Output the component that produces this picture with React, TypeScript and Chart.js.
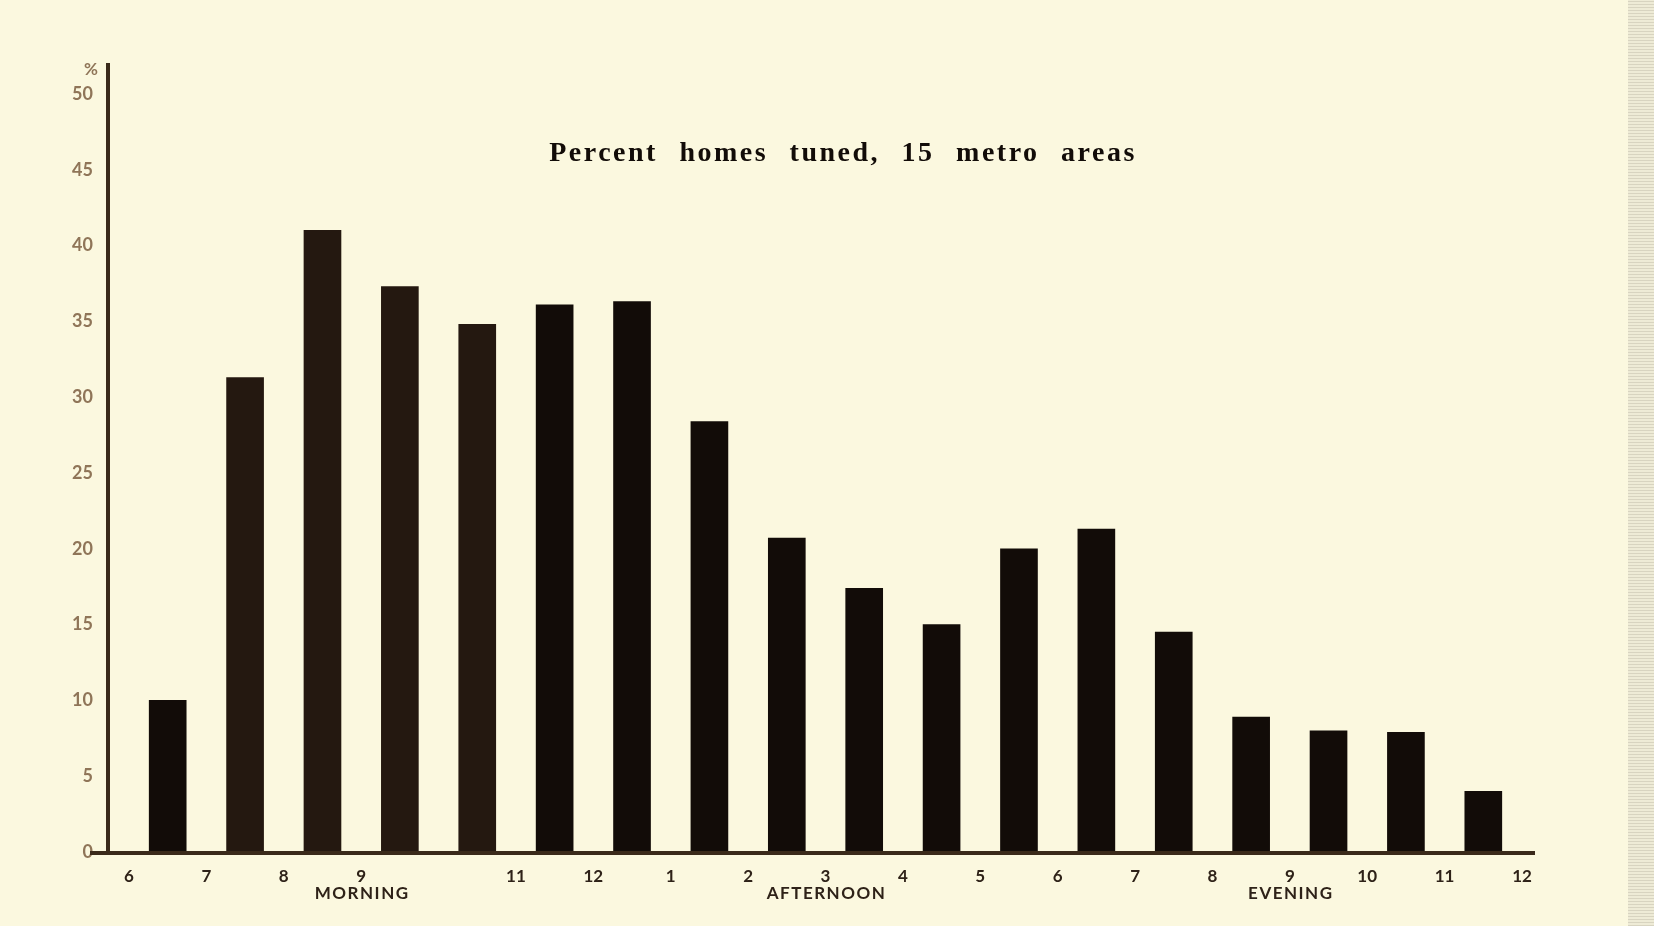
import React, { useEffect, useRef } from "react";
import { Chart, registerables } from "chart.js";
Chart.register(...registerables);

const hourTicks = ["6", "7", "8", "9", "", "11", "12", "1", "2", "3", "4", "5", "6", "7", "8", "9", "10", "11", "12"];
const periodLabels = ["MORNING", "AFTERNOON", "EVENING"];
const periodTickIndex = [3, 9, 15];
const percentTuned = [10, 31.3, 41, 37.3, 34.8, 36.1, 36.3, 28.4, 20.7, 17.4, 15, 20, 21.3, 14.5, 8.9, 8, 7.9, 4];
const chartTitle = "Percent homes tuned, 15 metro areas";
const yUnit = "%";

const BG = "#fbf8df";
const INK = "#120c08";
const INK_BROWN = "#241810";
const AXIS = "#3a2a1a";
const barShades = percentTuned.map((_, i) => (i >= 1 && i <= 4 ? INK_BROWN : INK));

const decor = {
  id: "decor",
  afterDatasetsDraw(chart: any) {
    const { ctx, chartArea, scales } = chart;
    const x0 = chartArea.left - 21;
    const yb = chartArea.bottom;
    ctx.save();
    ctx.fillStyle = AXIS;
    ctx.fillRect(x0 - 2, 63, 4, yb - 63 + 2);
    ctx.fillRect(chartArea.left - 39, yb - 1, chartArea.right + 13 - (chartArea.left - 39), 4);
    ctx.fillStyle = "#8f7558";
    ctx.font = "bold 17px Lato";
    ctx.textAlign = "center";
    ctx.textBaseline = "middle";
    ctx.fillText(yUnit, 91, 70);
    ctx.fillStyle = "#2e2218";
    ctx.font = "bold 17px Lato";
    (ctx as any).letterSpacing = "1.5px";
    periodLabels.forEach((lab, k) => {
      ctx.fillText(lab, scales.x.getPixelForValue(periodTickIndex[k]) + 1, yb + 42);
    });
    ctx.fillStyle = INK;
    ctx.font = "bold 28px 'Liberation Serif'";
    (ctx as any).letterSpacing = "2.5px";
    (ctx as any).wordSpacing = "12px";
    ctx.textBaseline = "alphabetic";
    ctx.fillText(chartTitle, 843, 161);
    ctx.restore();
  },
};

export default function App() {
  const ref = useRef<HTMLCanvasElement>(null);
  useEffect(() => {
    const c = new Chart(ref.current!, {
      type: "bar",
      data: {
        datasets: [
          {
            data: percentTuned.map((v, i) => ({ x: i + 0.5, y: v })),
            backgroundColor: barShades,
            barThickness: 37,
          },
        ],
      },
      options: {
        animation: false,
        responsive: false,
        layout: { padding: { left: 59, right: 132, top: 94, bottom: 10 } },
        plugins: { legend: { display: false }, tooltip: { enabled: false }, title: { display: false } },
        scales: {
          x: {
            type: "linear",
            offset: false,
            min: 0,
            max: 18,
            grid: { display: false, offset: false },
            border: { display: false },
            afterFit: (s: any) => { s.height = 64; },
            ticks: {
              stepSize: 1,
              autoSkip: false,
              maxRotation: 0,
              padding: 6,
              color: "#2e2218",
              font: { family: "Lato", weight: "bold", size: 17 },
              callback: (value: any) => hourTicks[Math.round(Number(value))] ?? "",
            },
          },
          y: {
            min: 0,
            max: 50,
            grid: { display: false },
            border: { display: false },
            afterFit: (s: any) => { s.width = 70; },
            ticks: {
              stepSize: 5,
              padding: 28,
              color: "#8f7558",
              font: { family: "Lato", weight: "bold", size: 18 },
            },
          },
        },
      },
      plugins: [decor],
    });
    return () => c.destroy();
  }, []);
  return (
    <div style={{ position: "fixed", inset: 0, background: BG, overflow: "hidden" }}>
      <div
        style={{
          position: "absolute",
          right: 0,
          top: 0,
          width: 26,
          height: 926,
          background: "repeating-linear-gradient(0deg, #d8d4c0 0px, #d8d4c0 1px, #eeebd6 1px, #eeebd6 3px)",
        }}
      />
      <canvas ref={ref} width={1654} height={926} style={{ position: "absolute", left: 0, top: 0 }} />
    </div>
  );
}
